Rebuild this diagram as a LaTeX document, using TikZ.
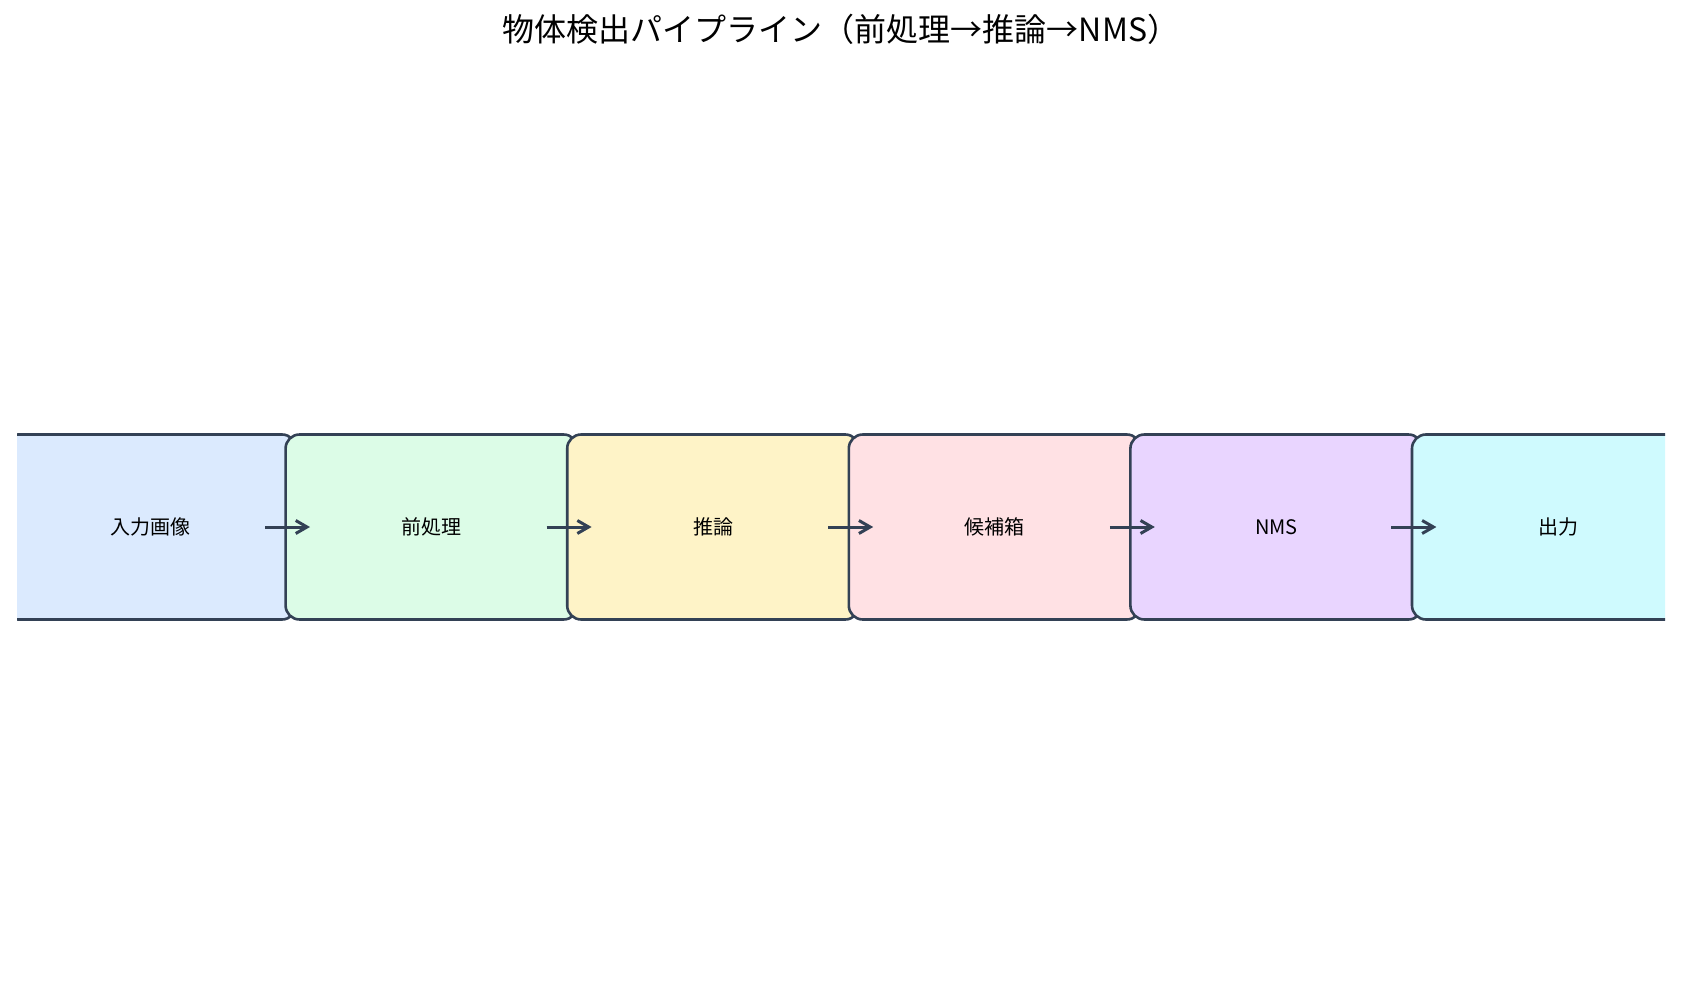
\documentclass[tikz,border=0pt]{standalone}
\usepackage{fontspec}
\setmainfont{Noto Sans CJK JP}
\usetikzlibrary{arrows.meta, positioning}
\definecolor{edge}{HTML}{334155}
\definecolor{cA}{HTML}{DBEAFE}
\definecolor{cB}{HTML}{DCFCE7}
\definecolor{cC}{HTML}{FEF3C7}
\definecolor{cD}{HTML}{FFE1E4}
\definecolor{cE}{HTML}{E9D5FF}
\definecolor{cF}{HTML}{CFFAFE}

\begin{document}
\begin{tikzpicture}[
x=1pt, y=-1pt,
node distance = 0pt and -13pt,
  stage/.style = {draw=edge, line width=2.6pt, rounded corners=14pt,
                  minimum width=292pt, minimum height=185pt,
                  font=\fontsize{20}{24}\selectfont},
      > = {Straight Barb[angle=60:4pt 3]},
  link/.style = {->, draw=edge, line width=3pt},
        ]
\useasboundingbox (0,0) rectangle (1682,1003);
\node (title) at (841,29) {\fontsize{32}{38}\selectfont 物体検出パイプライン（前処理→推論→NMS）};
\begin{scope}
\clip (17,0) rectangle (1665,1003);
\node (s1) [stage, fill=cA] at (150,527) {入力画像};
\node (s2) [stage, fill=cB, right=of s1] {前処理};
\node (s3) [stage, fill=cC, right=of s2] {推論};
\node (s4) [stage, fill=cD, right=of s3] {候補箱};
\node (s5) [stage, fill=cE, right=of s4] {NMS};
\node (s6) [stage, fill=cF, right=of s5] {出力};
%
\foreach \a in {s1, s2, s3, s4, s5}
  \draw[link] ([xshift=115pt]\a.center) -- ([xshift=160pt]\a.center);
\end{scope}
\end{tikzpicture}
\end{document}
